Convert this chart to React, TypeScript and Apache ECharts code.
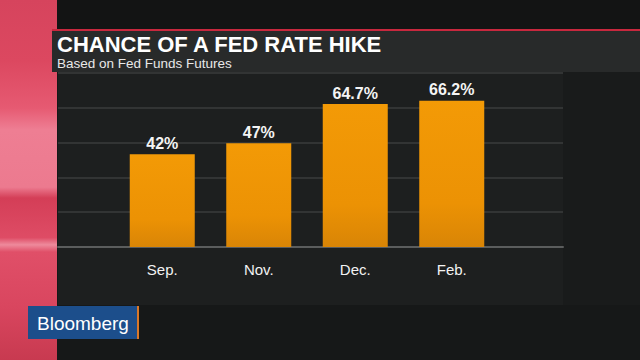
import React, { useEffect, useRef } from "react";
import * as echarts from "echarts";

const categories = ["Sep.", "Nov.", "Dec.", "Feb."];
const values = [42, 47, 64.7, 66.2];
const yMax = 78.75;
const yInterval = 15.75;
const titleText = "CHANCE OF A FED RATE HIKE";
const subtitleText = "Based on Fed Funds Futures";
const brandText = "Bloomberg";

const FONT = "'Liberation Sans', Arial, Helvetica, sans-serif";

export default function App() {
  const ref = useRef<HTMLDivElement>(null);
  useEffect(() => {
    if (!ref.current) return;
    const chart = echarts.init(ref.current, null, { renderer: "svg" });
    const barGradient = new echarts.graphic.LinearGradient(0, 0, 0, 1, [
      { offset: 0, color: "#f39a06" },
      { offset: 0.7, color: "#ec9204" },
      { offset: 1, color: "#d98506" },
    ]);
    const redGradient = new echarts.graphic.LinearGradient(0, 0, 0, 1, [
      { offset: 0, color: "#d6445d" },
      { offset: 0.17, color: "#dc4860" },
      { offset: 0.3, color: "#e65a72" },
      { offset: 0.36, color: "#ee7e93" },
      { offset: 0.52, color: "#ec7a8f" },
      { offset: 0.55, color: "#d43e57" },
      { offset: 0.66, color: "#de4c65" },
      { offset: 0.68, color: "#ee8a9c" },
      { offset: 0.7, color: "#e04f68" },
      { offset: 0.85, color: "#d9465f" },
      { offset: 1, color: "#c83a50" },
    ]);
    chart.setOption({
      animation: false,
      backgroundColor: "#161818",
      graphic: [
        { type: "rect", z: -20, shape: { x: 0, y: 0, width: 640, height: 29 }, style: { fill: "#131414" } },
        { type: "rect", z: -19, shape: { x: 0, y: 0, width: 57, height: 360 }, style: { fill: redGradient } },
        { type: "rect", z: -18, shape: { x: 52, y: 29, width: 588, height: 43 }, style: { fill: "#282a2a" } },
        { type: "rect", z: -17, shape: { x: 52, y: 29, width: 588, height: 2 }, style: { fill: "#c8283e" } },
        { type: "rect", z: -16, shape: { x: 58, y: 72, width: 505, height: 233 }, style: { fill: "#1d1f1f" } },
        { type: "rect", z: -16, shape: { x: 563, y: 72, width: 77, height: 233 }, style: { fill: "#191b1b" } },
        {
          type: "text",
          z: 10,
          style: { text: titleText, x: 57, y: 44.5, verticalAlign: "middle", font: `bold 22px ${FONT}`, fill: "#ffffff" },
        },
        {
          type: "text",
          z: 10,
          style: { text: subtitleText, x: 57, y: 63.2, verticalAlign: "middle", font: `13.5px ${FONT}`, fill: "#e8e8e8" },
        },
        { type: "rect", z: 10, shape: { x: 28, y: 306, width: 109, height: 33 }, style: { fill: "#1c4e8b" } },
        { type: "rect", z: 10, shape: { x: 137, y: 306, width: 2, height: 33 }, style: { fill: "#d9782a" } },
        {
          type: "text",
          z: 11,
          style: { text: brandText, x: 37, y: 323.5, verticalAlign: "middle", font: `19px ${FONT}`, fill: "#ffffff" },
        },
      ],
      grid: [
        { left: 114, right: 140, top: 73, bottom: 113 },
        { left: 58, right: 77, top: 73, bottom: 113 },
      ],
      xAxis: [
        {
          type: "category",
          gridIndex: 0,
          data: categories,
          axisLine: { show: false },
          axisTick: { show: false },
          axisLabel: { color: "#f2f2f2", fontSize: 15, fontFamily: FONT, margin: 15 },
        },
        {
          type: "value",
          gridIndex: 1,
          min: 0,
          max: 1,
          axisLine: { show: true, lineStyle: { color: "#5b5d5d", width: 2 } },
          axisTick: { show: false },
          axisLabel: { show: false },
          splitLine: { show: false },
        },
      ],
      yAxis: [
        {
          type: "value",
          gridIndex: 0,
          min: 0,
          max: yMax,
          interval: yInterval,
          axisLine: { show: false },
          axisTick: { show: false },
          axisLabel: { show: false },
          splitLine: { show: false },
        },
        {
          type: "value",
          gridIndex: 1,
          min: 0,
          max: yMax,
          interval: yInterval,
          axisLine: { show: false },
          axisTick: { show: false },
          axisLabel: { show: false },
          splitLine: { show: true, lineStyle: { color: "#3a3c3c", width: 1.5 } },
        },
      ],
      series: [
        {
          type: "bar",
          xAxisIndex: 0,
          yAxisIndex: 0,
          data: values,
          barWidth: 65,
          z: 5,
          itemStyle: { color: barGradient },
          label: {
            show: true,
            position: "top",
            distance: 3,
            formatter: (p: any) => `${p.value}%`,
            color: "#f4f4f4",
            fontSize: 16,
            fontWeight: "bold",
            fontFamily: FONT,
          },
        },
      ],
    });
    return () => chart.dispose();
  }, []);
  return <div ref={ref} style={{ position: "fixed", left: 0, top: 0, width: 640, height: 360 }} />;
}
